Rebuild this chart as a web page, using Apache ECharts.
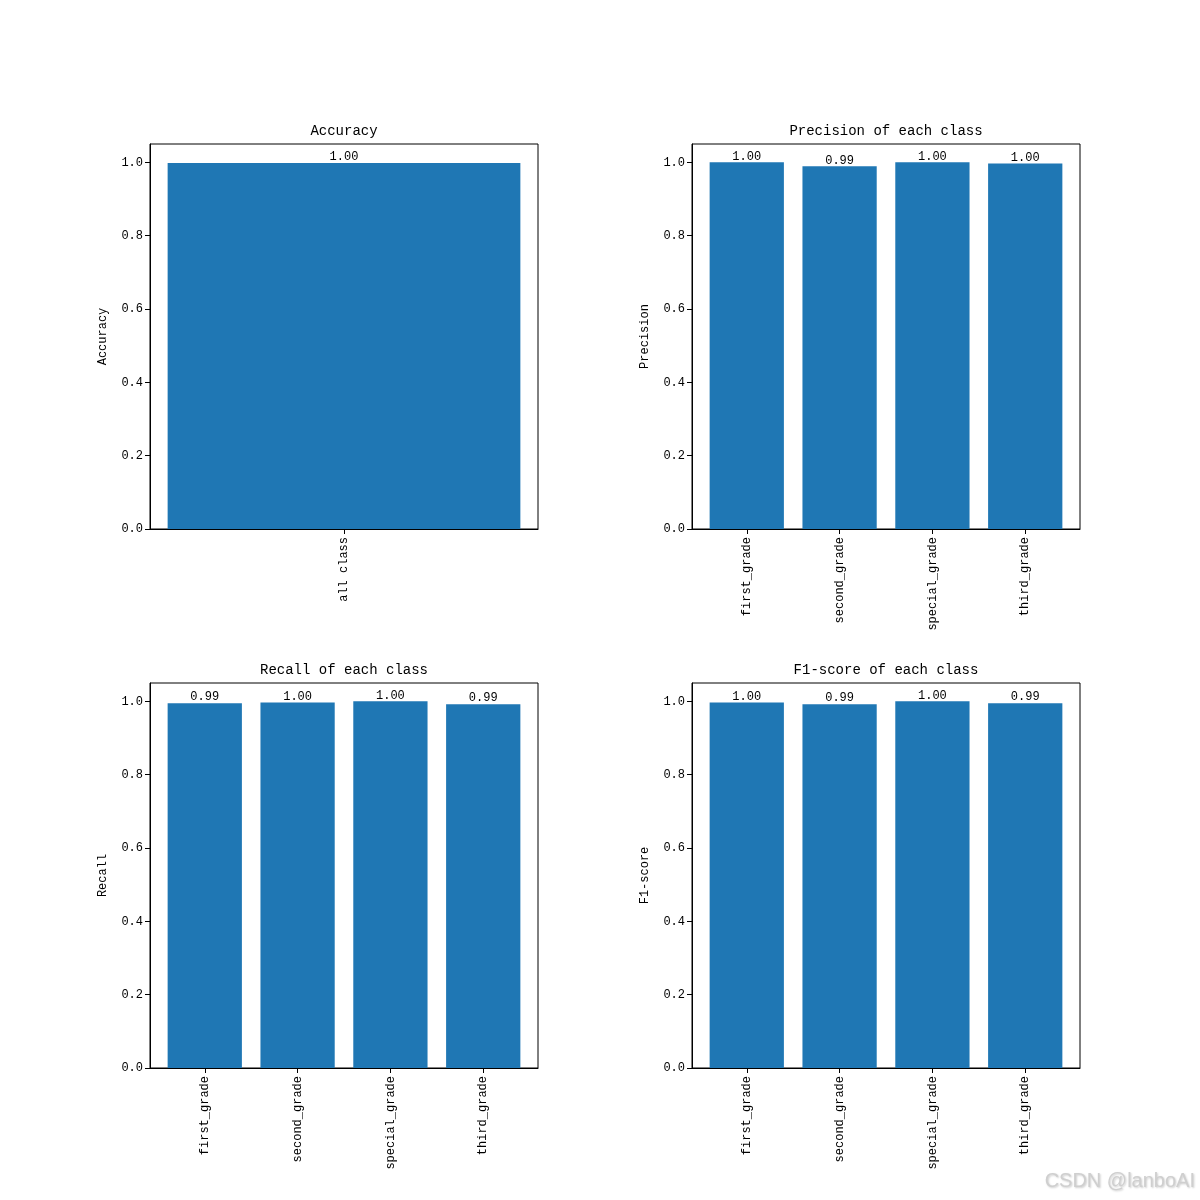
<!DOCTYPE html>
<html>
<head>
<meta charset="utf-8">
<script src="https://cdn.jsdelivr.net/npm/echarts@6/dist/echarts.min.js"></script>
<style>html,body{margin:0;padding:0;background:#fff}#c{width:1200px;height:1200px}</style>
</head>
<body>
<div id="c"></div>
<script>
const accCategories = ['all class'];
const accValues = [0.998];
const classCategories = ['first_grade', 'second_grade', 'special_grade', 'third_grade'];
const precisionValues = [1.0, 0.989, 1.0, 0.997];
const recallValues = [0.995, 0.997, 1.0, 0.992];
const f1Values = [0.997, 0.992, 1.0, 0.995];
const yTickValues = [0, 0.2, 0.4, 0.6, 0.8, 1.0];
const yMax = 1.05;

const panels = [
  {title: 'Accuracy', yName: 'Accuracy', cats: accCategories, vals: accValues, left: 150, top: 144},
  {title: 'Precision of each class', yName: 'Precision', cats: classCategories, vals: precisionValues, left: 692, top: 144},
  {title: 'Recall of each class', yName: 'Recall', cats: classCategories, vals: recallValues, left: 150, top: 683},
  {title: 'F1-score of each class', yName: 'F1-score', cats: classCategories, vals: f1Values, left: 692, top: 683}
];
const W = 388, H = 385;
const FONT = '"Liberation Mono", "DejaVu Sans Mono", monospace';

const grid = [], xAxis = [], yAxis = [], series = [], graphic = [];
panels.forEach((p, i) => {
  const n = p.cats.length;
  const span = (n - 1) + 0.8;
  const xmin = -0.4 - 0.05 * span;
  const xmax = (n - 1) + 0.4 + 0.05 * span;
  const barPx = 0.8 * W / (xmax - xmin);
  const idx = p.cats.map((c, k) => k);
  grid.push({left: p.left, top: p.top, width: W, height: H, show: true, borderColor: '#000', borderWidth: 1, containLabel: false});
  xAxis.push({
    type: 'value', gridIndex: i, min: xmin, max: xmax, position: 'bottom',
    splitLine: {show: false},
    axisLine: {show: true, onZero: false, lineStyle: {color: '#000', width: 1}},
    axisTick: {show: true, inside: false, length: 5, customValues: idx, lineStyle: {color: '#000'}},
    axisLabel: {show: true, customValues: idx, rotate: 90, margin: 8, color: '#000', fontFamily: FONT, fontSize: 12,
      formatter: v => p.cats[Math.round(v)]}
  });
  yAxis.push({
    type: 'value', gridIndex: i, min: 0, max: yMax, position: 'left',
    name: p.yName, nameLocation: 'middle', nameGap: 41, nameRotate: 90,
    nameTextStyle: {color: '#000', fontFamily: FONT, fontSize: 12},
    splitLine: {show: false},
    axisLine: {show: true, onZero: false, lineStyle: {color: '#000', width: 1}},
    axisTick: {show: true, length: 5, customValues: yTickValues, lineStyle: {color: '#000'}},
    axisLabel: {show: true, customValues: yTickValues, margin: 7, color: '#000', fontFamily: FONT, fontSize: 12,
      formatter: v => v.toFixed(1)}
  });
  series.push({
    type: 'bar', xAxisIndex: i, yAxisIndex: i, barWidth: barPx,
    data: p.vals.map((v, k) => [k, v]),
    itemStyle: {color: '#1f77b4'},
    label: {show: true, position: 'top', distance: 0, color: '#000', fontFamily: FONT, fontSize: 12,
      formatter: pr => pr.value[1].toFixed(2)}
  });
  graphic.push({
    type: 'text', x: p.left + W / 2, y: p.top - 13,
    style: {text: p.title, fill: '#000', font: '14px ' + FONT, textAlign: 'center', textVerticalAlign: 'middle'}
  });
});
graphic.push({
  type: 'text', x: 1195, y: 1181,
  style: {text: 'CSDN @lanboAI', fill: '#cfcfcf', font: '20px "Liberation Sans", Arial, sans-serif',
    textAlign: 'right', textVerticalAlign: 'middle', textShadowColor: 'rgba(0,0,0,0.2)', textShadowBlur: 2, textShadowOffsetX: 1, textShadowOffsetY: 1}
});

const chart = echarts.init(document.getElementById('c'), null, {renderer: 'canvas'});
chart.setOption({
  animation: false,
  backgroundColor: '#fff',
  grid, xAxis, yAxis, series, graphic
});
</script>
</body>
</html>
